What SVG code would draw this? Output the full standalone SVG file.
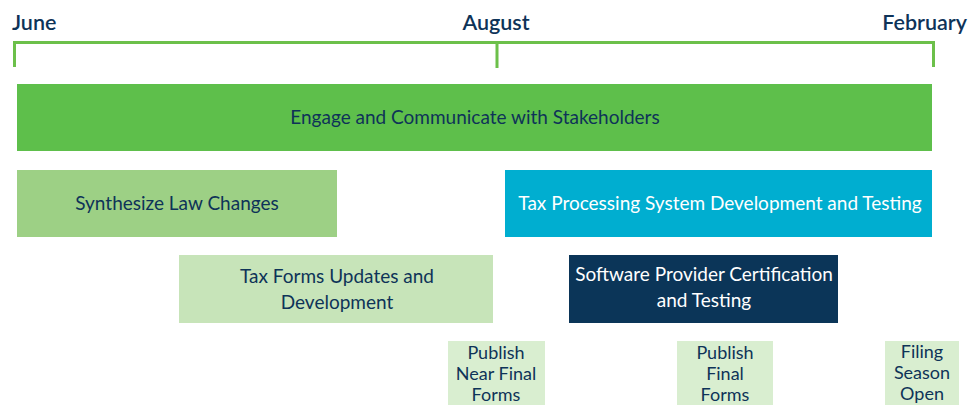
<svg xmlns="http://www.w3.org/2000/svg" width="971" height="405" viewBox="0 0 971 405">
  <style>
    text { font-family: Lato, "Open Sans", "Liberation Sans", sans-serif; font-size: 19px; fill: #0e3358; text-anchor: middle; }
    .month { font-size: 21.5px; font-weight: 600; }
    .light { fill: #ffffff; }
    .small { font-size: 18px; }
    .axis { stroke: #6cc04a; stroke-width: 3; fill: none; }
  </style>
  <rect width="971" height="405" fill="#ffffff"/>

  <!-- timeline axis -->
  <g id="timeline">
    <path class="axis" d="M14.5 67 V42.5 H933.5 V67 M497 42.5 V68"/>
    <text class="month" x="12" y="30" style="text-anchor:start">June</text>
    <text class="month" x="496" y="30">August</text>
    <text class="month" x="967" y="30" style="text-anchor:end">February</text>
  </g>

  <g id="connectors"></g>

  <g id="engage">
    <rect x="17" y="84" width="915" height="67" fill="#5ebf4b"/>
    <text x="475" y="124">Engage and Communicate with Stakeholders</text>
  </g>

  <g id="synthesize">
    <rect x="17" y="170" width="320" height="67" fill="#9dd085"/>
    <text x="177" y="210">Synthesize Law Changes</text>
  </g>

  <g id="tax-processing">
    <rect x="505" y="170" width="427" height="67" fill="#00aed0"/>
    <text class="light" x="720" y="210">Tax Processing System Development and Testing</text>
  </g>

  <g id="tax-forms">
    <rect x="179" y="255" width="314" height="68" fill="#c7e4b9"/>
    <text x="337" y="283">Tax Forms Updates and</text>
    <text x="337" y="309">Development</text>
  </g>

  <g id="software-provider">
    <rect x="569" y="255" width="269" height="68" fill="#0b3558"/>
    <text class="light" x="704" y="281">Software Provider Certification</text>
    <text class="light" x="704" y="307">and Testing</text>
  </g>

  <g id="publish-near-final" class="small">
    <rect x="448" y="341" width="97" height="64" fill="#d9eed0"/>
    <text class="small" x="496" y="359">Publish</text>
    <text class="small" x="496" y="380">Near Final</text>
    <text class="small" x="496" y="401">Forms</text>
  </g>

  <g id="publish-final">
    <rect x="677" y="341" width="96" height="64" fill="#d9eed0"/>
    <text class="small" x="725" y="359">Publish</text>
    <text class="small" x="725" y="380">Final</text>
    <text class="small" x="725" y="401">Forms</text>
  </g>

  <g id="filing-season">
    <rect x="885" y="341" width="74" height="64" fill="#d9eed0"/>
    <text class="small" x="922" y="358">Filing</text>
    <text class="small" x="922" y="379">Season</text>
    <text class="small" x="922" y="400">Open</text>
  </g>
</svg>
